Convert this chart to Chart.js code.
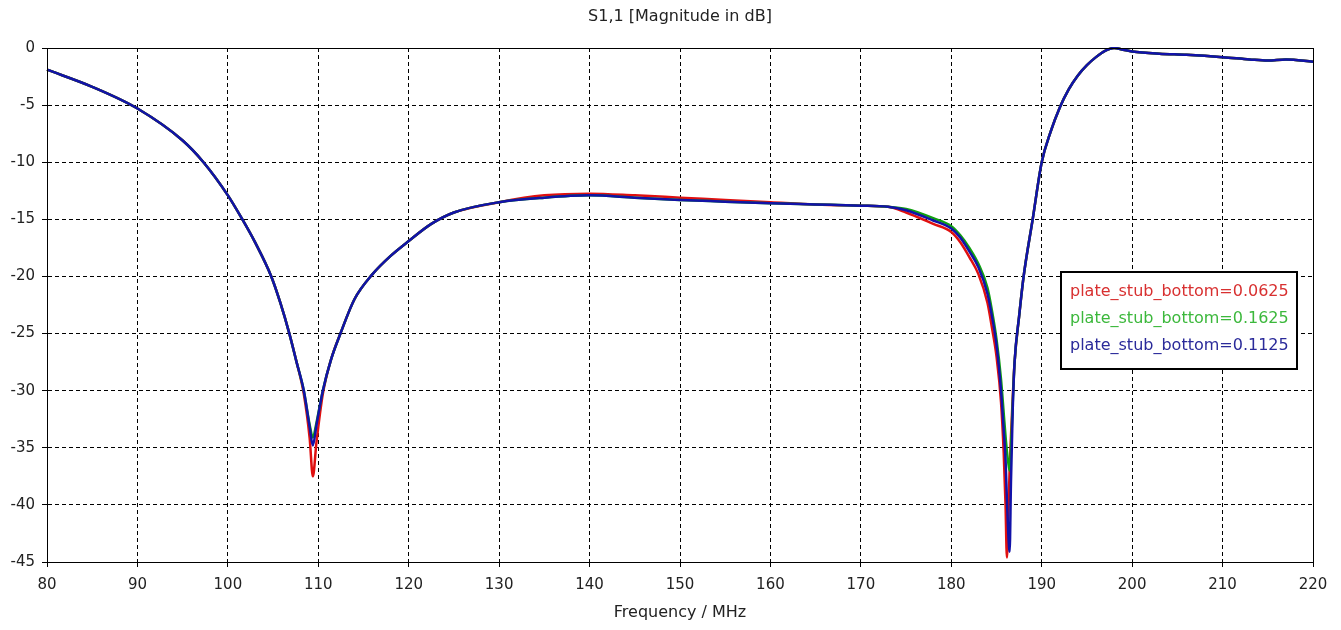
<!DOCTYPE html>
<html>
<head>
<meta charset="utf-8">
<title>S1,1 Magnitude</title>
<script src="https://cdn.jsdelivr.net/npm/chart.js@4.4.0/dist/chart.umd.min.js"></script>
<style>
  html, body { margin: 0; padding: 0; background: #fff; }
  #wrap { width: 1341px; height: 630px; }
</style>
</head>
<body>
<div id="wrap"><canvas id="s11Chart" width="1341" height="630"></canvas></div>
<script>
// Frequency points (MHz), shared by all three curves
var freqs = [80, 85, 90, 95, 97.3, 100, 101.6, 103, 104.8, 105.8, 106.8,
  107.6, 108.4, 109.05, 109.4, 109.8, 110.5, 111.4, 112.45, 114, 116,
  118, 120, 122.5, 125, 130, 135, 140, 145, 150, 155,
  160, 165, 170, 173, 175, 178, 180, 181, 182, 183,
  184, 184.5, 185, 185.5, 185.8, 186, 186.15, 186.3, 186.45, 186.6,
  186.8, 187, 187.5, 188, 189, 190, 191, 192, 193, 194,
  195, 196, 197, 198, 199, 200, 203, 206, 210, 213,
  215, 217, 220];

// S1,1 in dB, plate_stub_bottom=0.0625
var s11_0625 = [-1.9, -3.4, -5.3, -8.1, -10, -12.9, -15, -17.0, -20, -22.3, -25,
  -27.5, -30.3, -34.2, -37.5, -34.5, -30.3, -27.3, -25, -22.0, -19.8,
  -18.2, -16.9, -15.4, -14.4, -13.5, -12.9, -12.75, -12.9, -13.1, -13.3,
  -13.5, -13.7, -13.8, -13.9, -14.4, -15.4, -16.1, -17.0, -18.3, -19.8,
  -22.3, -24.5, -27, -31, -35.5, -40, -44.6, -41, -37, -34,
  -30.5, -27.5, -23.5, -20, -15, -10, -7.3, -5.2, -3.6, -2.4,
  -1.5, -0.8, -0.25, 0, -0.15, -0.3, -0.5, -0.6, -0.8, -1.0,
  -1.1, -1.0, -1.2];

// plate_stub_bottom=0.1625
var s11_1625 = [-1.9, -3.4, -5.3, -8.1, -10, -12.9, -15, -17.0, -20, -22.3, -25,
  -27.5, -30, -33.0, -34.1, -32.8, -30, -27.3, -25, -22.0, -19.8,
  -18.2, -16.9, -15.4, -14.4, -13.5, -13.1, -12.9, -13.1, -13.3, -13.45,
  -13.6, -13.7, -13.8, -13.9, -14.1, -14.9, -15.6, -16.4, -17.5, -18.9,
  -21.0, -23.0, -25.5, -29, -32, -34, -35.3, -36.3, -37, -35,
  -31, -27.5, -23.5, -20, -15, -10, -7.3, -5.2, -3.6, -2.4,
  -1.5, -0.8, -0.25, 0, -0.15, -0.3, -0.5, -0.6, -0.8, -1.0,
  -1.1, -1.0, -1.2];

// plate_stub_bottom=0.1125
var s11_1125 = [-1.9, -3.4, -5.3, -8.1, -10, -12.9, -15, -17.0, -20, -22.3, -25,
  -27.5, -30, -33.2, -34.8, -33, -30, -27.3, -25, -22.0, -19.8,
  -18.2, -16.9, -15.4, -14.4, -13.5, -13.1, -12.9, -13.1, -13.3, -13.45,
  -13.6, -13.7, -13.8, -13.9, -14.2, -15.1, -15.8, -16.6, -17.8, -19.2,
  -21.5, -23.5, -26, -30, -33.5, -36, -39.5, -42.5, -44.1, -38,
  -31.5, -27.5, -23.5, -20, -15, -10, -7.3, -5.2, -3.6, -2.4,
  -1.5, -0.8, -0.25, 0, -0.15, -0.3, -0.5, -0.6, -0.8, -1.0,
  -1.1, -1.0, -1.2];

var seriesLabels = ["plate_stub_bottom=0.0625", "plate_stub_bottom=0.1625", "plate_stub_bottom=0.1125"];
var lineColors = ["#e01010", "#10a010", "#1212a8"];
var textColors = ["#d83030", "#3cb83c", "#2a2a9a"];

var chartTitle = "S1,1 [Magnitude in dB]";
var xTitle = "Frequency / MHz";

function toPoints(ys) {
  return freqs.map(function (f, i) { return { x: f, y: ys[i] }; });
}

var fontFamily = "'DejaVu Sans', Tahoma, sans-serif";

// title, plot frame and legend box
var framePlugin = {
  id: "frame",
  afterDraw: function (chart) {
    var ctx = chart.ctx;
    var a = chart.chartArea;
    ctx.save();
    ctx.strokeStyle = "#000";
    ctx.lineWidth = 1;
    ctx.setLineDash([]);
    ctx.strokeRect(Math.round(a.left) + 0.5, Math.round(a.top) + 0.5,
      Math.round(a.right - a.left), Math.round(a.bottom - a.top));

    ctx.fillStyle = "#222";
    ctx.font = "16px " + fontFamily;
    ctx.textAlign = "center";
    ctx.textBaseline = "middle";
    ctx.fillText(chartTitle, (a.left + a.right) / 2, 17);

    // legend
    var bx = 1061, by = 272, bw = 236, bh = 97;
    ctx.fillStyle = "#fff";
    ctx.fillRect(bx, by, bw, bh);
    ctx.lineWidth = 2;
    ctx.strokeStyle = "#000";
    ctx.strokeRect(bx, by, bw, bh);
    ctx.font = "16px " + fontFamily;
    ctx.textAlign = "left";
    chart.data.datasets.forEach(function (ds, i) {
      ctx.fillStyle = textColors[i];
      ctx.fillText(ds.label, bx + 9, by + 20 + i * 26.7);
    });
    ctx.restore();
  }
};

var ctx = document.getElementById("s11Chart").getContext("2d");

var data = {
  datasets: seriesLabels.map(function (lbl, i) {
    return {
      label: lbl,
      data: toPoints([s11_0625, s11_1625, s11_1125][i]),
      borderColor: lineColors[i],
      borderWidth: 2.5,
      fill: false,
      pointRadius: 0,
      pointHoverRadius: 0,
      cubicInterpolationMode: "monotone",
      clip: 1,
      order: [2, 1, 0][i] // blue drawn on top
    };
  })
};

var config = {
  type: "line",
  data: data,
  plugins: [framePlugin],
  options: {
    responsive: false,
    animation: false,
    layout: { padding: { top: 48, right: 28, left: 0, bottom: 0 } },
    plugins: {
      legend: { display: false },
      title: { display: false },
      tooltip: { enabled: false }
    },
    scales: {
      x: {
        type: "linear",
        min: 80,
        max: 220,
        afterFit: function (s) { s.height = 68; },
        ticks: { stepSize: 10, color: "#222", padding: 9, font: { size: 15, family: fontFamily } },
        grid: { color: "#000", lineWidth: 1, tickLength: 5, tickBorderDash: [], tickColor: "#000" },
        border: { display: true, color: "#000", width: 1, dash: [4, 3] },
        title: { display: true, text: xTitle, color: "#222", padding: { top: 0, bottom: 8 }, font: { size: 16, family: fontFamily } }
      },
      y: {
        min: -45,
        max: 0,
        afterFit: function (s) { s.width = 47; },
        ticks: { stepSize: 5, color: "#222", padding: 7, font: { size: 15, family: fontFamily } },
        grid: { color: "#000", lineWidth: 1, tickLength: 5, tickBorderDash: [], tickColor: "#000" },
        border: { display: true, color: "#000", width: 1, dash: [4, 3] }
      }
    }
  }
};

new Chart(ctx, config);
</script>
</body>
</html>
